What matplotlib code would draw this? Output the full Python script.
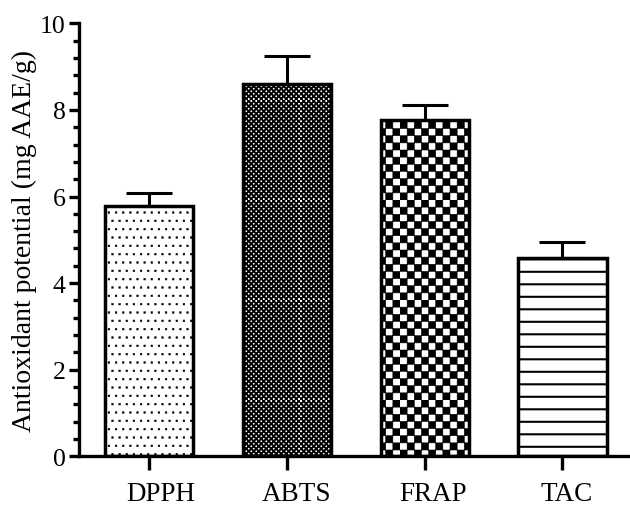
import numpy as np
import matplotlib
matplotlib.use("Agg")
import matplotlib.pyplot as plt
import matplotlib.hatch as mhatch
from matplotlib.path import Path
from matplotlib.ticker import MultipleLocator
from matplotlib.transforms import ScaledTranslation

# ---- data -------------------------------------------------------------
categories = ["DPPH", "ABTS", "FRAP", "TAC"]
means = [5.77, 8.60, 7.77, 4.58]
errors = [0.32, 0.64, 0.35, 0.36]
y_ticks = [0, 2, 4, 6, 8, 10]
y_label = "Antioxidant potential (mg AAE/g)"


# ---- fill patterns (unit cell = one hatch tile) ------------------------
def _square(cx, cy, half):
    return np.array([[cx - half, cy - half], [cx + half, cy - half],
                     [cx + half, cy + half], [cx - half, cy + half],
                     [cx - half, cy - half]])


_SQ_CODES = [Path.MOVETO, Path.LINETO, Path.LINETO, Path.LINETO,
             Path.CLOSEPOLY]


class _Dots(mhatch.HatchPatternBase):
    """Staggered rows of small square dots."""
    cols, rows, half = 14, 12, 0.0085

    def __init__(self, hatch, density):
        self.on = "." in hatch
        self.num_vertices = self.cols * self.rows * 5 if self.on else 0

    def set_vertices_and_codes(self, vertices, codes):
        k = 0
        for r in range(self.rows):
            shift = 0.5 if r % 2 else 0.0
            for c in range(self.cols):
                cx = (c + 0.25 + shift) / self.cols
                cy = (r + 0.5) / self.rows
                vertices[k:k + 5] = _square(cx, cy, self.half)
                codes[k:k + 5] = _SQ_CODES
                k += 5


class _Checker(mhatch.HatchPatternBase):
    """Checkerboard of filled squares, `cells` squares per tile side."""
    key = "o"
    cells = 40

    def __init__(self, hatch, density):
        self.n = self.cells if self.key in hatch else 0
        self.num_vertices = (self.n * self.n // 2) * 5

    def set_vertices_and_codes(self, vertices, codes):
        n = self.n
        s = 1.0 / n
        k = 0
        for i in range(n):
            for j in range(n):
                if (i + j) % 2 == 0:
                    vertices[k:k + 5] = _square((i + 0.5) * s, (j + 0.5) * s,
                                                s / 2)
                    codes[k:k + 5] = _SQ_CODES
                    k += 5


class _FineChecker(_Checker):
    key = "o"
    cells = 40


class _CoarseChecker(_Checker):
    key = "O"
    cells = 14


class _Rules(mhatch.HatchPatternBase):
    """Evenly spaced horizontal rules."""
    lines, phase = 8, 0.093

    def __init__(self, hatch, density):
        self.n = self.lines if "-" in hatch else 0
        self.num_vertices = self.n * 2

    def set_vertices_and_codes(self, vertices, codes):
        ys = 1.0 - (self.phase + np.arange(self.n) / self.n)
        vertices[0::2, 0] = 0.0
        vertices[1::2, 0] = 1.0
        vertices[0::2, 1] = ys
        vertices[1::2, 1] = ys
        codes[0::2] = Path.MOVETO
        codes[1::2] = Path.LINETO


mhatch._hatch_types = [_Dots, _FineChecker, _CoarseChecker, _Rules]

hatches = [".", "o", "O", "-"]
hatch_widths = [0.3, 0.6, 0.4, 1.5]

# ---- figure -----------------------------------------------------------
plt.rcParams["font.family"] = ["Liberation Serif", "DejaVu Serif"]
plt.rcParams["hatch.color"] = "black"

fig = plt.figure(figsize=(6.3, 5.06), dpi=100)
ax = fig.add_axes([0.1259, 0.0962, 0.8741, 0.8558])

x = np.arange(len(categories))

ax.errorbar(x, means, yerr=[np.zeros(len(errors)), errors], fmt="none",
            ecolor="black", elinewidth=2.2, capsize=16.4, capthick=2.2,
            zorder=1)

for i in range(len(categories)):
    with plt.rc_context({"hatch.linewidth": hatch_widths[i]}):
        bar = ax.bar(x[i], means[i], width=0.64, facecolor="white",
                     edgecolor="black", linewidth=2.5, hatch=hatches[i],
                     zorder=2)
    for p in bar:
        if hasattr(p, "set_hatch_linewidth"):
            p.set_hatch_linewidth(hatch_widths[i])

ax.set_xlim(-0.506, 3.49)
ax.set_ylim(0, 10)
ax.set_xticks(x)
ax.set_xticklabels(categories, fontsize=19.5)
ax.set_yticks(y_ticks)
ax.set_yticklabels([str(t) for t in y_ticks], fontsize=18.5)
ax.yaxis.set_minor_locator(MultipleLocator(0.4))

for side in ("top", "right"):
    ax.spines[side].set_visible(False)
for side in ("left", "bottom"):
    ax.spines[side].set_linewidth(2.4)
    ax.spines[side].set_capstyle("projecting")

ax.tick_params(axis="y", which="major", length=7, width=2.4, pad=3)
ax.tick_params(axis="y", which="minor", length=4.5, width=2.4)
ax.tick_params(axis="x", which="major", length=10, width=2.4, pad=7.5)

# category labels sit slightly right of their ticks
label_shift_pt = [8.1, 6.8, 5.8, 2.9]
for tick, dx in zip(ax.xaxis.get_major_ticks(), label_shift_pt):
    lab = tick.label1
    lab.set_transform(lab.get_transform()
                      + ScaledTranslation(dx / 72, 0, fig.dpi_scale_trans))

ax.set_ylabel(y_label, fontsize=20)
ax.yaxis.set_label_coords(-0.077, 0.5)

fig.savefig("out.png", dpi=100)
